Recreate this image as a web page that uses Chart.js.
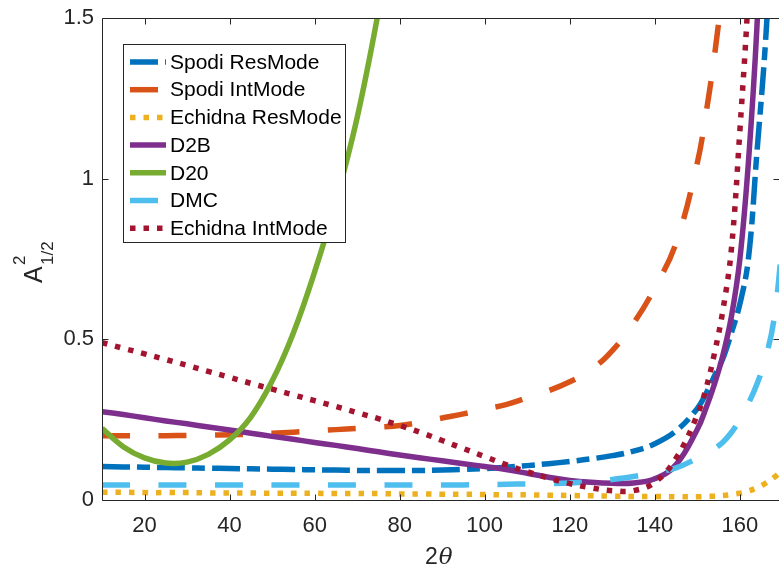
<!DOCTYPE html>
<html>
<head>
<meta charset="utf-8">
<script src="https://cdn.jsdelivr.net/npm/chart.js@4.4.0/dist/chart.umd.min.js"></script>
<style>
  body { margin: 0; background: #fff; }
  canvas { display: block; }
</style>
</head>
<body>
<canvas id="grafico" width="779" height="570"></canvas>
<script>
// Angulos 2theta donde se leen las curvas
const angulos = [10, 15, 20, 25, 30, 35, 40, 45, 50, 55, 60, 65, 70, 75, 80, 85, 90, 95, 100, 105,
  110, 115, 120, 125, 130, 135, 140, 145, 150, 152, 154, 156, 158, 160, 162, 164, 166, 168, 170];

// Valores de A^2_{1/2} para cada instrumento (null = fuera del grafico)
const spodiRes = [0.104, 0.103, 0.102, 0.101, 0.1, 0.099, 0.098, 0.097, 0.096, 0.095, 0.094, 0.093, 0.092, 0.092, 0.092, 0.092, 0.093, 0.095, 0.098, 0.102,
  0.107, 0.113, 0.12, 0.128, 0.138, 0.152, 0.175, 0.215, 0.285, 0.33, 0.385, 0.44, 0.52, 0.61, 0.75, 1.08, 1.42, 1.9, null];
const spodiInt = [0.2, 0.2, 0.2, 0.2, 0.201, 0.202, 0.203, 0.205, 0.208, 0.211, 0.215, 0.219, 0.223, 0.227, 0.232, 0.242, 0.255, 0.268, 0.283, 0.297,
  0.318, 0.34, 0.368, 0.405, 0.465, 0.55, 0.66, 0.8, 1.05, 1.2, 1.38, 1.6, 1.85, null, null, null, null, null, null];
const echidnaRes = [0.024, 0.024, 0.023, 0.023, 0.023, 0.022, 0.022, 0.022, 0.021, 0.021, 0.021, 0.02, 0.02, 0.02, 0.019, 0.019, 0.018, 0.018, 0.017, 0.016,
  0.016, 0.015, 0.014, 0.013, 0.012, 0.011, 0.011, 0.01, 0.01, 0.011, 0.012, 0.014, 0.017, 0.021, 0.028, 0.038, 0.052, 0.07, 0.092];
const d2b = [0.275, 0.266, 0.256, 0.246, 0.237, 0.227, 0.218, 0.208, 0.198, 0.189, 0.179, 0.17, 0.16, 0.15, 0.14, 0.131, 0.122, 0.113, 0.104, 0.095,
  0.083, 0.071, 0.061, 0.055, 0.052, 0.053, 0.066, 0.11, 0.22, 0.285, 0.36, 0.45, 0.57, 0.75, 1.05, 1.47, 2.1, null, null];
const d20 = [0.223, 0.166, 0.131, 0.115, 0.118, 0.142, 0.187, 0.258, 0.37, 0.52, 0.71, 0.93, 1.19, 1.52, 1.9, null, null, null, null, null,
  null, null, null, null, null, null, null, null, null, null, null, null, null, null, null, null, null, null, null];
const dmc = [0.047, 0.047, 0.047, 0.047, 0.047, 0.047, 0.047, 0.047, 0.047, 0.047, 0.047, 0.047, 0.047, 0.047, 0.047, 0.047, 0.047, 0.047, 0.048, 0.049,
  0.05, 0.051, 0.053, 0.057, 0.064, 0.073, 0.085, 0.1, 0.13, 0.145, 0.16, 0.18, 0.21, 0.25, 0.3, 0.36, 0.44, 0.56, 0.8];
const echidnaInt = [0.49, 0.472, 0.455, 0.437, 0.419, 0.4, 0.382, 0.363, 0.345, 0.327, 0.309, 0.291, 0.272, 0.253, 0.232, 0.21, 0.185, 0.16, 0.135, 0.11,
  0.088, 0.068, 0.051, 0.038, 0.029, 0.029, 0.055, 0.13, 0.265, 0.345, 0.455, 0.59, 0.78, 1.15, 1.58, 2.2, null, null, null];

const nombres = ['Spodi ResMode', 'Spodi IntMode', 'Echidna ResMode', 'D2B', 'D20', 'DMC', 'Echidna IntMode'];
const ticksX = [20, 40, 60, 80, 100, 120, 140, 160];
const ticksY = [0, 0.5, 1, 1.5];

// Estilo de cada linea (colores de matlab)
const colores = ['#0072BD', '#D95319', '#EDB120', '#7E2F8E', '#77AC30', '#4DBEEE', '#A2142F'];
const guiones = [[28, 7, 13, 7], [28, 28.5], [5.5, 8], [], [], [28, 28.5], [5.5, 8]];

const series = [spodiRes, spodiInt, echidnaRes, d2b, d20, dmc, echidnaInt];
const colorEjes = '#262626';
const fuente = "'Liberation Sans', Arial, Helvetica, sans-serif";

let datasets = series.map(function(valores, i) {
  return {
    label: nombres[i],
    data: valores.map((v, j) => ({x: angulos[j], y: v})),
    borderColor: colores[i],
    borderWidth: 5.5,
    borderDash: guiones[i],
    pointRadius: 0,
    tension: 0.4,
    clip: 0,
    // el ultimo en la lista queda encima
    order: series.length - i
  };
});

// Marco con marcas hacia dentro, leyenda con caja y titulos de ejes
const marco = {
  id: 'marco',
  afterDraw(chart) {
    const ctx = chart.ctx;
    const a = chart.chartArea;
    const x = chart.scales.x, y = chart.scales.y;
    const l = Math.round(a.left) + 0.5, r = Math.round(a.right) - 0.5;
    const t = Math.round(a.top) + 0.5, b = Math.round(a.bottom) + 0.5;
    ctx.save();
    ctx.strokeStyle = colorEjes;
    ctx.lineWidth = 1;
    ctx.beginPath();
    ctx.moveTo(l, t); ctx.lineTo(l, b); ctx.lineTo(r + 1, b);
    ctx.moveTo(l, t); ctx.lineTo(r + 1, t);
    ticksX.forEach(function(v) {
      const px = Math.round(x.getPixelForValue(v)) + 0.5;
      ctx.moveTo(px, b); ctx.lineTo(px, b - 6);
      ctx.moveTo(px, t); ctx.lineTo(px, t + 6);
    });
    ticksY.forEach(function(v) {
      const py = Math.round(y.getPixelForValue(v)) + 0.5;
      ctx.moveTo(l, py); ctx.lineTo(l + 6, py);
      ctx.moveTo(r + 1, py); ctx.lineTo(r - 5, py);
    });
    ctx.stroke();

    // leyenda
    ctx.fillStyle = '#fff';
    ctx.fillRect(123.5, 44.5, 222, 198);
    ctx.strokeRect(123.5, 44.5, 222, 198);
    ctx.font = '21px ' + fuente;
    ctx.textBaseline = 'middle';
    chart.data.datasets.forEach(function(ds, i) {
      const yy = 62 + i * 27.7;
      ctx.strokeStyle = ds.borderColor;
      ctx.lineWidth = ds.borderWidth;
      ctx.setLineDash(ds.borderDash);
      ctx.beginPath();
      ctx.moveTo(130, yy); ctx.lineTo(166, yy);
      ctx.stroke();
      ctx.setLineDash([]);
      ctx.fillStyle = '#000';
      ctx.fillText(ds.label, 170, yy + 1);
    });

    // titulo eje x: 2θ
    ctx.fillStyle = colorEjes;
    ctx.textBaseline = 'alphabetic';
    ctx.font = '23px ' + fuente;
    ctx.fillText('2', 425, 564);
    const w2 = ctx.measureText('2').width;
    ctx.font = "italic 23px 'DejaVu Serif', 'Liberation Serif', serif";
    ctx.fillText('\u03b8', 425 + w2 + 1, 564);

    // titulo eje y: A^2_{1/2}
    ctx.translate(42, 283);
    ctx.rotate(-Math.PI / 2);
    ctx.font = '25px ' + fuente;
    ctx.fillText('A', 0, 0);
    ctx.font = '17px ' + fuente;
    ctx.fillText('2', 18, -17);
    ctx.fillText('1/2', 18, 11);
    ctx.restore();
  }
};

let grafico = new Chart(document.getElementById('grafico').getContext('2d'), {
  type: 'line',
  data: { datasets: datasets },
  options: {
    responsive: false,
    animation: false,
    devicePixelRatio: 1,
    layout: { padding: { top: 18, left: 0, right: 0, bottom: 0 } },
    plugins: {
      legend: { display: false },
      tooltip: { enabled: false }
    },
    scales: {
      x: {
        type: 'linear',
        min: 10,
        max: 169.2,
        afterBuildTicks: function(s) { s.ticks = ticksX.map(v => ({value: v})); },
        afterFit: function(s) { s.height = 70; },
        grid: { display: false },
        border: { display: false },
        ticks: { color: colorEjes, font: { family: fuente, size: 22 }, padding: 5, maxRotation: 0 }
      },
      y: {
        min: 0,
        max: 1.5,
        afterBuildTicks: function(s) { s.ticks = ticksY.map(v => ({value: v})); },
        afterFit: function(s) { s.width = 102; },
        grid: { display: false },
        border: { display: false },
        ticks: {
          color: colorEjes, font: { family: fuente, size: 22 }, padding: 0,
          callback: function(v) { return String(v); }
        }
      }
    }
  },
  plugins: [marco]
});
</script>
</body>
</html>
